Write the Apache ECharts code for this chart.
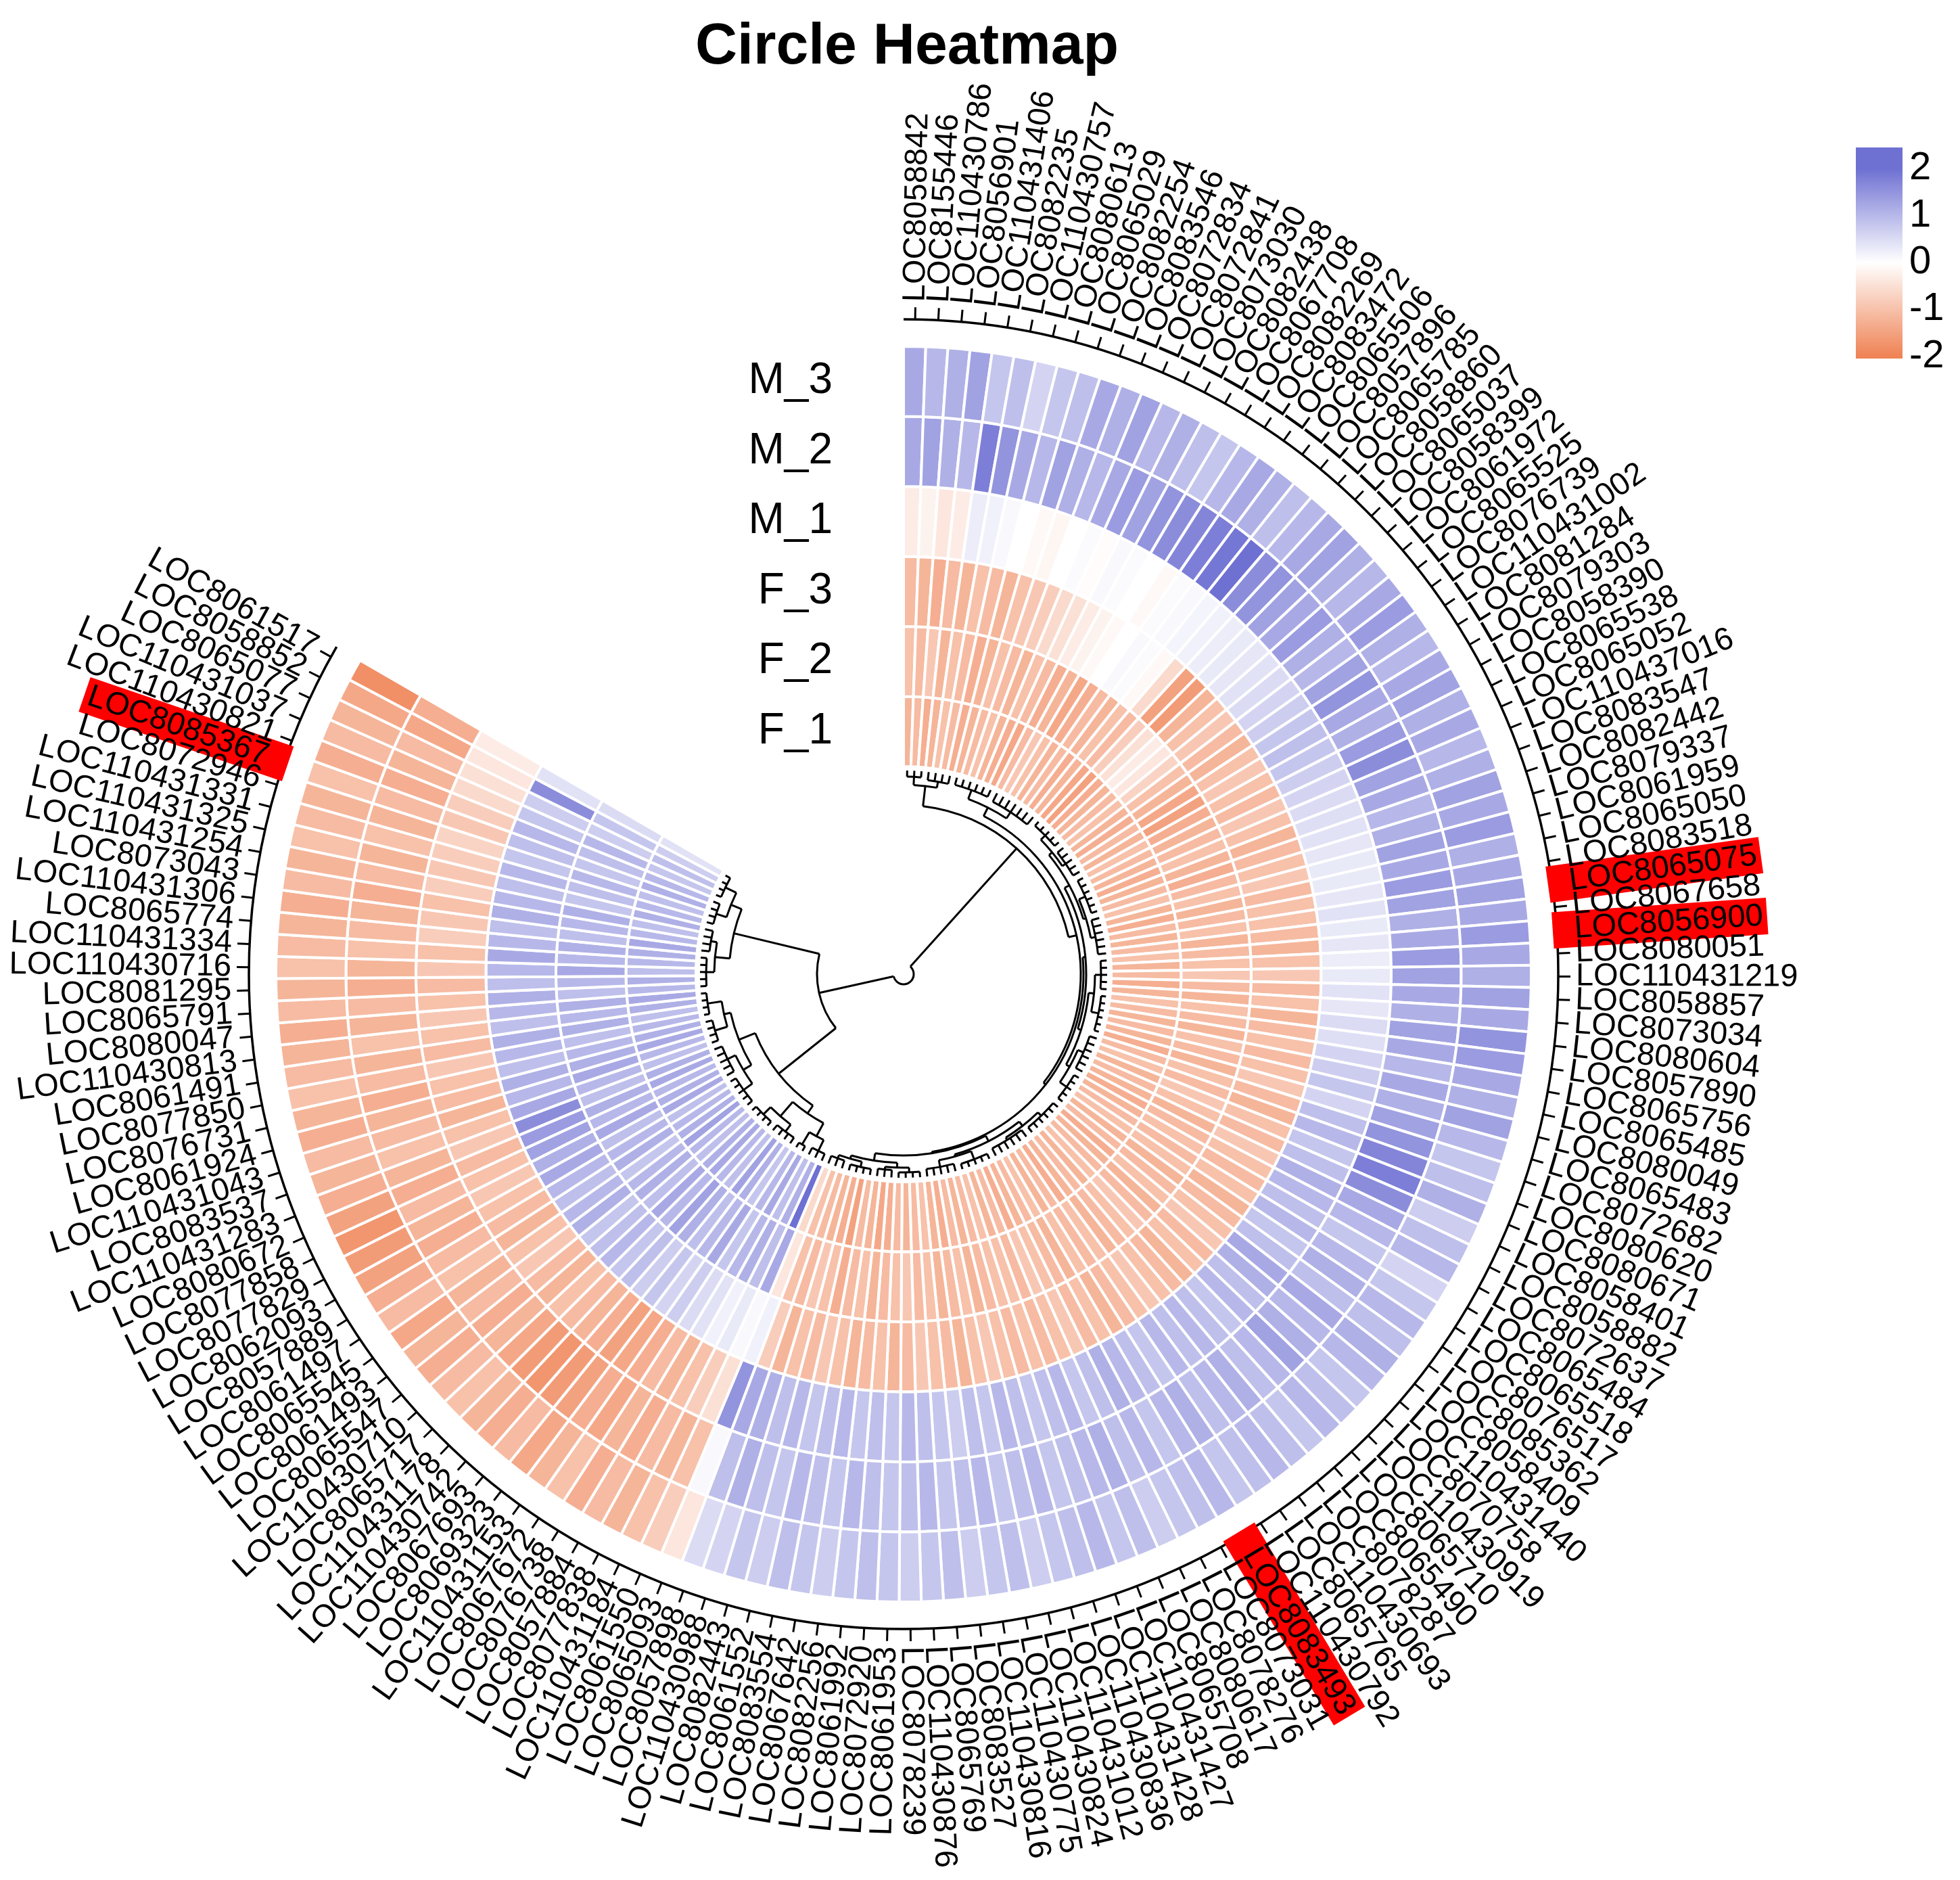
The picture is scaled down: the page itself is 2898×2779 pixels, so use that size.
<!DOCTYPE html>
<html>
<head>
<meta charset="utf-8">
<title>Circle Heatmap</title>
<script src="https://cdn.jsdelivr.net/npm/echarts@6.0.0/dist/echarts.min.js"></script>
<style>
  html, body { margin: 0; padding: 0; background: #fff; }
  #chart { width: 2898px; height: 2779px; }
</style>
</head>
<body>
<div id="chart"></div>
<script>
// gene order, clockwise from 12 o'clock
const genes = [
  'LOC8058842','LOC8155446','LOC110430786','LOC8056901','LOC110431406','LOC8082235','LOC110430757','LOC8080613','LOC8065029','LOC8082254',
  'LOC8083546','LOC8072834','LOC8072841','LOC8073030','LOC8082438','LOC8067708','LOC8082269','LOC8083472','LOC8065506','LOC8057896',
  'LOC8065785','LOC8058860','LOC8065037','LOC8058399','LOC8061972','LOC8065525','LOC8076739','LOC110431002','LOC8081284','LOC8079303',
  'LOC8058390','LOC8065538','LOC8065052','LOC110437016','LOC8083547','LOC8082442','LOC8079337','LOC8061959','LOC8065050','LOC8083518',
  'LOC8065075','LOC8067658','LOC8056900','LOC8080051','LOC110431219','LOC8058857','LOC8073034','LOC8080604','LOC8057890','LOC8065756',
  'LOC8065485','LOC8080049','LOC8065483','LOC8072682','LOC8080620','LOC8080671','LOC8058401','LOC8058882','LOC8072637','LOC8065484',
  'LOC8065518','LOC8076517','LOC8085362','LOC8058409','LOC110431440','LOC8070758','LOC110430919','LOC8065710','LOC8065490','LOC8078287',
  'LOC110430693','LOC8065765','LOC110430792','LOC8083493','LOC8073031','LOC8078276','LOC8080617','LOC8065708','LOC110431427','LOC110431428',
  'LOC110430836','LOC110431012','LOC110430824','LOC110430775','LOC110430816','LOC8083527','LOC8065769','LOC110430876','LOC8078239','LOC8061953',
  'LOC8072920','LOC8061992','LOC8082256','LOC8067642','LOC8083554','LOC8061552','LOC8082443','LOC110430988','LOC8057898','LOC8065093',
  'LOC8061550','LOC110431184','LOC8077838','LOC8057884','LOC8076738','LOC8067672','LOC110431153','LOC8069323','LOC8067693','LOC110430742',
  'LOC110431178','LOC8065717','LOC110430710','LOC8065547','LOC8061493','LOC8065545','LOC8061497','LOC8057889','LOC8062093','LOC8077829',
  'LOC8077858','LOC8080672','LOC110431283','LOC8083537','LOC110431043','LOC8061924','LOC8076731','LOC8077850','LOC8061491','LOC110430813',
  'LOC8080047','LOC8065791','LOC8081295','LOC110430716','LOC110431334','LOC8065774','LOC110431306','LOC8073043','LOC110431254','LOC110431325',
  'LOC110431331','LOC8072946','LOC8085367','LOC110430821','LOC110431037','LOC8065077','LOC8058852','LOC8061517'
];
const highlighted = ['LOC8065075', 'LOC8056900', 'LOC8083493', 'LOC8085367'];

// tracks, inner to outer
const rows = ['F_1', 'F_2', 'F_3', 'M_1', 'M_2', 'M_3'];

const F_1 = [
  -1.2,-1.1,-1.3,-1.2,-1.0,-1.1,-1.3,-1.2,-1.1,-1.0,
  -1.2,-1.3,-1.4,-1.1,-0.9,-1.0,-1.2,-1.1,-1.3,-1.2,
  -1.4,-1.5,-1.3,-1.2,-1.1,-1.0,-1.2,-1.3,-1.1,-1.2,
  -1.0,-1.1,-1.2,-1.3,-1.2,-1.1,-1.0,-1.2,-1.3,-1.1,
  -1.2,-1.1,-1.0,-1.2,-1.1,-1.3,-1.2,-1.0,-1.1,-1.2,
  -1.1,-1.2,-1.3,-1.1,-1.0,-1.2,-1.1,-1.2,-1.3,-1.2,
  -1.1,-1.0,-1.2,-1.1,-1.3,-1.2,-1.1,-1.0,-1.2,-1.1,
  -1.2,-1.3,-1.1,-1.2,-1.0,-1.1,-1.2,-1.3,-1.1,-1.2,
  -1.0,-1.1,-1.2,-1.1,-1.3,-1.2,-1.0,-1.1,-1.2,-1.1,
  -1.3,-1.4,-1.2,-1.1,-1.5,-1.3,-1.2,-1.1,-1.0,-0.6,
   2.3, 1.1, 0.9, 1.2, 1.0, 0.8, 1.1, 1.3, 0.9, 1.0,
   1.2, 1.1, 0.9, 1.0, 1.3, 1.1, 1.0, 0.9, 1.2, 1.1,
   1.0, 1.2, 1.1, 0.9, 1.0, 1.2, 1.1, 1.0, 0.9, 1.1,
   1.2, 1.0, 1.1, 0.9, 1.0, 1.1, 1.2, 1.0, 0.9, 1.1,
   1.0, 0.9, 1.1, 1.0, 0.8, 0.9, 0.7, 0.4
];
const F_2 = [
  -1.0,-1.1,-0.9,-1.2,-1.0,-1.1,-1.3,-1.2,-1.0,-1.1,
  -1.2,-1.0,-1.1,-1.3,-1.2,-1.4,-1.3,-1.1,-1.2,-1.0,
  -1.1,-0.8,-0.5,-0.3,-0.4,-0.7,-1.0,-1.2,-1.4,-1.5,
  -1.3,-1.2,-1.1,-1.0,-1.2,-1.3,-1.1,-1.0,-1.2,-1.1,
  -1.0,-1.2,-1.1,-1.0,-0.9,-1.1,-1.2,-1.0,-1.1,-1.2,
  -1.0,-1.1,-1.2,-1.0,-1.1,-0.9,-1.0,-1.2,-1.1,-1.0,
  -1.1,-1.0,-1.2,-1.1,-1.0,-1.2,-1.1,-0.9,-1.0,-1.1,
  -1.2,-1.0,-1.1,-1.0,-1.2,-1.1,-1.0,-0.9,-1.1,-1.0,
  -1.0,-1.1,-1.2,-1.0,-1.1,-1.2,-1.0,-1.1,-0.9,-1.0,
  -1.1,-1.2,-1.0,-1.1,-1.3,-1.0,-0.9,-1.1,-1.0,-0.4,
   1.2, 0.9, 1.1, 1.0, 0.8, 1.2, 1.0, 0.9, 1.1, 1.3,
   1.0, 1.2, 0.9, 1.1, 1.0, 0.8, 1.1, 1.0, 0.9, 1.2,
   1.0, 1.1, 0.9, 1.0, 1.2, 1.1, 1.0, 0.9, 1.1, 1.0,
   1.1, 0.9, 1.0, 1.2, 1.0, 1.1, 0.9, 1.0, 1.1, 0.8,
   0.9, 1.0, 0.8, 0.9, 1.0, 0.7, 0.8, 0.5
];
const F_3 = [
  -1.1,-1.2,-1.3,-1.1,-1.2,-1.0,-1.1,-1.2,-1.0,-0.9,
  -0.8,-0.6,-0.5,-0.3,-0.2,-0.1, 0.0, 0.1, 0.05,-0.1,
  -0.6,-1.5,-1.6,-1.2,-1.0,-0.9,-1.1,-1.2,-1.0,-0.9,
  -1.0,-1.1,-0.9,-1.0,-1.2,-1.1,-1.0,-0.9,-1.1,-1.0,
  -1.0,-1.1,-1.2,-1.0,-0.9,-1.1,-1.0,-1.2,-1.1,-1.0,
  -1.1,-1.0,-0.9,-1.1,-1.2,-1.0,-1.1,-0.9,-1.0,-1.1,
  -1.0,-1.2,-1.1,-1.0,-0.9,-1.1,-1.0,-1.2,-1.1,-1.0,
  -0.9,-1.0,-1.1,-1.2,-1.0,-1.1,-0.9,-1.0,-1.1,-1.0,
  -1.1,-1.0,-0.9,-1.0,-1.2,-1.1,-1.0,-0.9,-1.1,-1.2,
  -1.0,-1.1,-1.2,-1.0,-0.9,-1.1,-1.0,-1.2,-0.8, 0.2,
   0.1, 0.3, 0.2, 0.4, 0.5, 0.7, 0.6, 0.8, 0.7, 0.9,
   0.8, 1.0, 0.9, 0.8, 1.1, 1.0, 0.9, 1.0, 1.2, 1.1,
   1.3, 1.4, 1.6, 1.2, 1.0, 1.1, 0.9, 1.0, 1.1, 0.9,
   1.0, 1.1, 0.9, 1.0, 1.2, 1.0, 0.9, 1.1, 1.0, 0.9,
   1.0, 0.8, 0.9, 1.0, 0.8, 0.7, 1.6, 0.4
];
const M_1 = [
  -0.3,-0.2,-0.4,-0.3, 0.25, 0.2, 0.1, 0.0,-0.1,-0.15,
   0.0, 0.05,-0.05, 0.1, 0.05, 0.0,-0.1, 0.05, 0.1, 0.15,
   0.2, 0.25, 0.3, 0.35, 0.4, 0.5, 0.6, 0.7, 0.8, 0.9,
   0.8, 0.7, 0.6, 0.5, 0.45, 0.4, 0.35, 0.3, 0.3, 0.35,
   0.4, 0.3, 0.35, 0.25, 0.3, 0.4, 0.35, 0.5, 0.45, 0.6,
   0.7, 0.8, 0.6, 0.9, 1.0, 0.8, 0.9, 1.1, 1.0, 0.9,
   1.0, 0.8, 0.9, 1.2, 1.1, 0.9, 1.0, 0.8, 0.9, 1.0,
   0.9, 1.0, 0.8, 0.9, 1.0, 1.1, 0.9, 0.8, 1.0, 0.9,
   0.8, 0.9, 1.0, 0.8, 0.9, 0.7, 0.8, 0.9, 1.0, 0.8,
   0.9, 0.8, 1.0, 0.9, 0.8, 1.0, 0.9, 1.1, 1.2, 1.5,
  -0.5,-0.8,-1.0,-1.2,-1.1,-1.3,-1.4,-1.5,-1.3,-1.2,
  -1.1,-1.0,-1.2,-1.1,-0.9,-1.0,-1.2,-1.1,-1.0,-0.9,
  -1.0,-1.1,-0.9,-1.0,-1.2,-1.1,-1.0,-0.9,-1.1,-1.0,
  -0.9,-1.0,-1.1,-0.9,-1.0,-0.8,-0.9,-1.0,-0.8,-0.9,
  -0.8,-0.7,-0.9,-0.8,-0.6,-0.5,-0.4,-0.3
];
const M_2 = [
   1.2, 1.3, 1.1, 1.0, 1.8, 1.5, 1.2, 1.0, 1.3, 1.1,
   1.0, 1.2, 1.4, 1.3, 1.5, 1.6, 1.7, 1.8, 1.9, 2.0,
   1.6, 1.5, 1.3, 1.2, 1.4, 1.1, 1.0, 1.3, 1.5, 1.2,
   1.1, 1.4, 1.6, 1.3, 1.2, 1.0, 1.1, 1.3, 1.2, 1.4,
   1.3, 1.1, 1.2, 1.4, 1.3, 1.2, 1.1, 1.3, 1.2, 1.0,
   1.2, 1.1, 1.3, 1.5, 1.7, 1.8, 1.6, 1.2, 1.0, 0.8,
   1.0, 1.1, 0.9, 1.2, 1.0, 1.1, 1.3, 1.0, 0.9, 1.1,
   1.0, 0.9, 1.1, 1.0, 0.8, 1.0, 0.9, 1.1, 1.0, 0.9,
   0.8, 1.0, 0.9, 0.8, 1.0, 0.9, 0.8, 1.0, 0.9, 0.8,
   0.9, 1.0, 0.8, 0.9, 1.0, 0.8, 0.9, 1.1, 0.9, 0.1,
  -1.0,-1.2,-1.1,-1.3,-1.2,-1.4,-1.3,-1.5,-1.6,-1.7,
  -1.6,-1.4,-1.2,-1.3,-1.1,-1.2,-1.0,-1.1,-1.3,-1.2,
  -1.1,-1.3,-1.2,-1.0,-1.1,-1.2,-1.3,-1.1,-1.2,-1.0,
  -1.2,-1.1,-1.3,-1.2,-1.0,-1.1,-1.2,-1.3,-1.1,-1.2,
  -1.0,-1.2,-1.1,-1.3,-1.2,-1.1,-1.4,-1.3
];
const M_3 = [
   1.2, 1.0, 1.1, 1.3, 0.8, 0.9, 0.6, 0.8, 0.9, 1.2,
   1.1, 1.3, 1.0, 1.1, 0.9, 0.8, 1.0, 1.2, 1.1, 0.9,
   1.0, 1.2, 1.3, 1.1, 1.0, 1.2, 1.4, 1.1, 1.0, 1.2,
   1.3, 1.1, 1.2, 1.0, 1.1, 1.3, 1.2, 1.4, 1.1, 1.2,
   1.3, 1.2, 1.4, 1.2, 1.1, 1.3, 1.2, 1.5, 1.4, 1.2,
   1.1, 1.3, 1.0, 0.8, 0.9, 1.1, 0.7, 0.9, 1.0, 0.6,
   0.8, 1.0, 0.9, 1.1, 1.0, 0.8, 0.9, 1.0, 0.8, 0.9,
   1.0, 0.9, 0.8, 1.0, 0.9, 0.8, 0.7, 0.9, 0.8, 1.0,
   0.9, 0.8, 0.7, 0.9, 0.8, 0.7, 0.9, 0.8, 0.7, 0.8,
   0.9, 0.8, 0.7, 0.8, 0.9, 0.7, 0.8, 0.6, 0.5,-0.4,
  -0.8,-1.0,-1.2,-1.1,-1.3,-1.0,-1.2,-1.4,-1.1,-1.3,
  -1.2,-1.0,-1.1,-1.3,-1.2,-1.4,-1.1,-1.3,-1.5,-1.6,
  -1.7,-1.5,-1.3,-1.2,-1.1,-1.3,-1.2,-1.0,-1.1,-1.2,
  -1.3,-1.1,-1.2,-1.0,-1.1,-1.2,-1.3,-1.1,-1.2,-1.0,
  -1.1,-1.2,-1.0,-1.3,-1.1,-1.2,-1.4,-1.8
];
const trackValues = [F_1, F_2, F_3, M_1, M_2, M_3];

const legendTicks = [-2, -1, 0, 1, 2];

// dendrogram: node = [radius, left, right]; leaf comb = [firstLeaf, lastLeaf, radius]
const dendrogram = [15,
  [250,
    [280, [0, 2, 292], [3, 6, 289]],
    [262,
      [276, [7, 12, 290], [13, 19, 287]],
      [266,
        [270,
          [278, [284, [20, 24, 293], [25, 29, 290]], [282, [30, 35, 292], [36, 41, 289]]],
          [275, [283, [42, 46, 292], [47, 52, 294]], [281, [53, 58, 290], [59, 63, 293]]]],
        [268,
          [277, [285, [64, 69, 292], [70, 75, 289]], [280, [76, 80, 293], [81, 85, 290]]],
          [279, [286, [86, 89, 293], [90, 92, 290]], [284, [93, 96, 292], [97, 99, 289]]]]]]],
  [128,
    [236,
      [250, [272, [100, 102, 290], [103, 104, 293]], [278, [105, 108, 291], [109, 112, 293]]],
      [262, [276, [113, 117, 292], [118, 122, 289]], [272, [123, 126, 291], [127, 130, 293]]]],
    [258, [280, [131, 135, 292], [136, 139, 289]], [275, [140, 143, 291], [144, 147, 293]]]]
];

// layout (px, radius axis runs 0..1000 px)
const CX = 1336, CY = 1440;
const INNER = 307, RING = 103.5;
const LEAF_R = 301, AXIS_R = 968, TICK_R = 986, LABEL_R = 994;
const N = genes.length;
const FONT = '"Liberation Sans", Arial, sans-serif';

function colorOf(v) {
  const t = Math.max(-2, Math.min(2, v));
  return t < 0
    ? echarts.color.lerp(-t / 2, ['#ffffff', '#EF8355'])
    : echarts.color.lerp(t / 2, ['#ffffff', '#6E70D2']);
}

// heatmap cells
const cellData = [];
trackValues.forEach((vals, k) => vals.forEach((v, i) => cellData.push([k, i, v])));

function renderCell(params, api) {
  const k = api.value(0), i = api.value(1), v = api.value(2);
  const r0 = INNER + k * RING;
  const a = api.coord([r0, i]);
  const b = api.coord([r0 + RING, i + 1]);
  return {
    type: 'sector',
    shape: {
      cx: params.coordSys.cx, cy: params.coordSys.cy,
      r0: a[2], r: b[2],
      startAngle: -a[3], endAngle: -b[3], clockwise: true
    },
    style: { fill: colorOf(v), stroke: '#ffffff', lineWidth: 4 }
  };
}

// gene names around the circle
function renderLabel(params, api) {
  const i = params.dataIndex;
  const name = genes[i];
  const hl = highlighted.indexOf(name) >= 0;
  const pad = hl ? 32 : 0;
  const p = api.coord([LABEL_R - pad, i + 0.5]);
  const right = p[3] >= -Math.PI / 2 - 1e-6;
  const style = {
    text: name, fill: '#000', font: '47px ' + FONT,
    align: right ? 'left' : 'right', textAlign: right ? 'left' : 'right',
    verticalAlign: 'middle', textVerticalAlign: 'middle'
  };
  if (hl) {
    style.backgroundColor = '#ff0000';
    style.padding = right ? [4, 6, 3, pad] : [4, pad, 3, 6];
  }
  return { type: 'text', x: p[0], y: p[1], rotation: right ? p[3] : p[3] + Math.PI, style: style, z2: hl ? 5 : 10 };
}

// outer axis arc with ticks
function renderAxis(params, api) {
  const s = api.coord([AXIS_R, 0]);
  const e = api.coord([AXIS_R, N]);
  const children = [{
    type: 'arc',
    shape: { cx: params.coordSys.cx, cy: params.coordSys.cy, r: s[2], startAngle: -s[3], endAngle: -e[3], clockwise: true },
    style: { stroke: '#000', lineWidth: 3.5, fill: null }
  }];
  for (let i = 0; i < N; i++) {
    const a = api.coord([AXIS_R, i + 0.5]);
    const b = api.coord([TICK_R, i + 0.5]);
    children.push({ type: 'line', shape: { x1: a[0], y1: a[1], x2: b[0], y2: b[1] }, style: { stroke: '#000', lineWidth: 3 } });
  }
  return { type: 'group', children: children };
}

// dendrogram segments
const segs = [];
function layoutTree(node) {
  if (!Array.isArray(node[1])) {
    const from = node[0], to = node[1], r = node[2];
    for (let i = from; i <= to; i++) segs.push(['radial', i + 0.5, r, LEAF_R]);
    if (to > from) segs.push(['arc', from + 0.5, to + 0.5, r]);
    return { pos: (from + to + 1) / 2, r: r };
  }
  const r = node[0];
  const a = layoutTree(node[1]);
  const b = layoutTree(node[2]);
  segs.push(['radial', a.pos, r, a.r]);
  segs.push(['radial', b.pos, r, b.r]);
  segs.push(['arc', a.pos, b.pos, r]);
  return { pos: (a.pos + b.pos) / 2, r: r };
}
layoutTree(dendrogram);

function renderDendro(params, api) {
  const s = segs[params.dataIndex];
  if (s[0] === 'radial') {
    const a = api.coord([s[2], s[1]]);
    const b = api.coord([s[3], s[1]]);
    return { type: 'line', shape: { x1: a[0], y1: a[1], x2: b[0], y2: b[1] }, style: { stroke: '#000', lineWidth: 3 } };
  }
  const a = api.coord([s[3], s[1]]);
  const b = api.coord([s[3], s[2]]);
  return {
    type: 'arc',
    shape: { cx: params.coordSys.cx, cy: params.coordSys.cy, r: a[2], startAngle: -a[3], endAngle: -b[3], clockwise: true },
    style: { stroke: '#000', lineWidth: 3, fill: null }
  };
}

// track names left of the start
function renderRowName(params, api) {
  const k = params.dataIndex;
  const p = api.coord([INNER + (k + 0.5) * RING, 0]);
  return {
    type: 'text', x: p[0] - 105, y: p[1],
    style: { text: rows[k], fill: '#000', font: '64px ' + FONT,
      align: 'right', textAlign: 'right', verticalAlign: 'middle', textVerticalAlign: 'middle' }
  };
}

// legend bar
const LEG_MIN = -2.05, LEG_MAX = 2.45;
function renderLegendBar(params, api) {
  const top = api.coord([0, LEG_MAX]);
  const bot = api.coord([1, LEG_MIN]);
  const stops = [LEG_MAX, 2, 1, 0, -1, -2, LEG_MIN].map(v => ({
    offset: (api.coord([0, v])[1] - top[1]) / (bot[1] - top[1]),
    color: colorOf(v)
  }));
  return {
    type: 'rect',
    shape: { x: top[0], y: top[1], width: bot[0] - top[0], height: bot[1] - top[1] },
    style: { fill: new echarts.graphic.LinearGradient(0, 0, 0, 1, stops) }
  };
}

const chart = echarts.init(document.getElementById('chart'), null, { renderer: 'canvas' });
chart.setOption({
  animation: false,
  backgroundColor: '#ffffff',
  title: {
    text: 'Circle Heatmap', left: 1336, top: 22, textAlign: 'center',
    textStyle: { fontSize: 86, fontWeight: 'bold', fontFamily: FONT, color: '#000' }
  },
  polar: { center: [CX, CY], radius: [0, 1000] },
  radiusAxis: { type: 'value', min: 0, max: 1000, show: false,
    axisLine: { show: false }, axisTick: { show: false }, axisLabel: { show: false }, splitLine: { show: false } },
  angleAxis: { type: 'value', min: 0, max: N * 360 / 300, startAngle: 90, clockwise: true, show: false,
    axisLine: { show: false }, axisTick: { show: false }, axisLabel: { show: false }, splitLine: { show: false } },
  grid: { left: 2744, top: 218, width: 69, height: 312 },
  xAxis: { type: 'value', min: 0, max: 1, show: false },
  yAxis: {
    type: 'value', min: LEG_MIN, max: LEG_MAX, position: 'right',
    axisLine: { show: false }, axisTick: { show: false }, splitLine: { show: false },
    axisLabel: { customValues: legendTicks, fontSize: 58, fontFamily: FONT, color: '#000', margin: 10 }
  },
  series: [
    { type: 'custom', coordinateSystem: 'polar', renderItem: renderCell, data: cellData, silent: true },
    { type: 'custom', coordinateSystem: 'polar', renderItem: renderDendro, data: segs.map(() => [0, 0]), silent: true },
    { type: 'custom', coordinateSystem: 'polar', renderItem: renderAxis, data: [[0, 0]], silent: true },
    { type: 'custom', coordinateSystem: 'polar', renderItem: renderLabel, data: genes.map(() => [0, 0]), silent: true },
    { type: 'custom', coordinateSystem: 'polar', renderItem: renderRowName, data: rows.map(() => [0, 0]), silent: true },
    { type: 'custom', coordinateSystem: 'cartesian2d', renderItem: renderLegendBar, data: [[0, 0]], silent: true }
  ]
});
</script>
</body>
</html>
